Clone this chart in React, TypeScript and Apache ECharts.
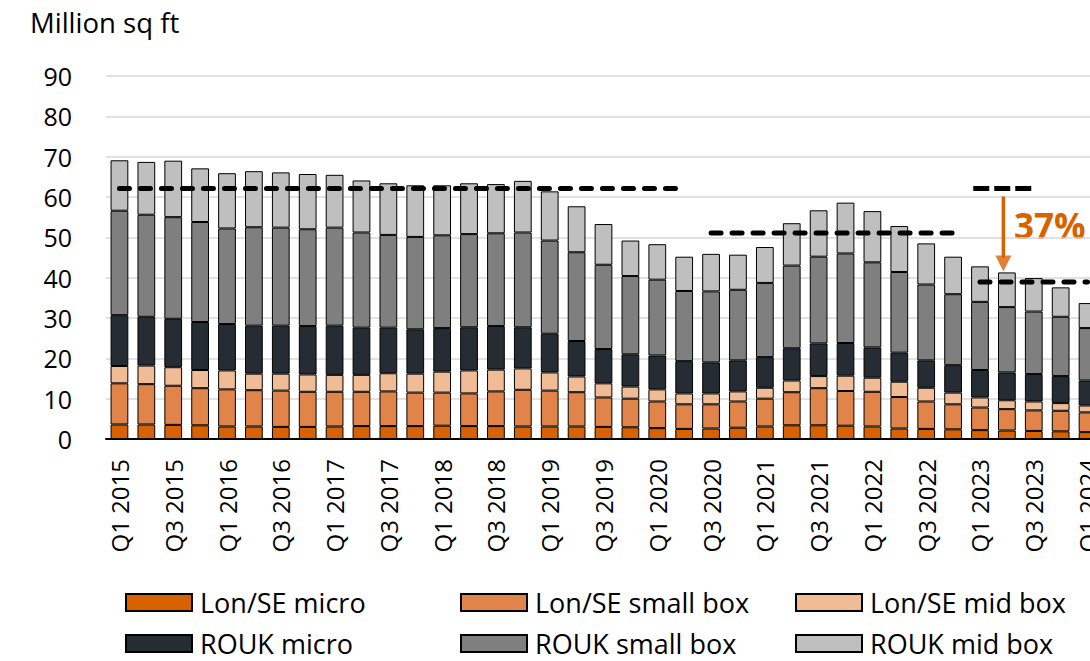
import React, { useEffect, useRef } from "react";
import * as echarts from "echarts";

const categories = [
  "Q1 2015", "Q2 2015", "Q3 2015", "Q4 2015",
  "Q1 2016", "Q2 2016", "Q3 2016", "Q4 2016",
  "Q1 2017", "Q2 2017", "Q3 2017", "Q4 2017",
  "Q1 2018", "Q2 2018", "Q3 2018", "Q4 2018",
  "Q1 2019", "Q2 2019", "Q3 2019", "Q4 2019",
  "Q1 2020", "Q2 2020", "Q3 2020", "Q4 2020",
  "Q1 2021", "Q2 2021", "Q3 2021", "Q4 2021",
  "Q1 2022", "Q2 2022", "Q3 2022", "Q4 2022",
  "Q1 2023", "Q2 2023", "Q3 2023", "Q4 2023",
  "Q1 2024",
];

const lonSeMicro = [3.6, 3.6, 3.5, 3.4, 3.1, 3.1, 3.0, 3.0, 3.1, 3.2, 3.2, 3.2, 3.3, 3.2, 3.2, 3.1, 3.1, 3.1, 3.0, 2.9, 2.7, 2.5, 2.6, 2.8, 3.1, 3.4, 3.4, 3.3, 3.1, 2.6, 2.5, 2.4, 2.2, 2.1, 2.0, 1.9, 1.7];
const lonSeSmall = [10.2, 10.0, 9.7, 9.2, 9.2, 9.0, 9.0, 8.7, 8.6, 8.5, 8.6, 8.3, 8.2, 8.1, 8.6, 9.1, 8.9, 8.5, 7.3, 7.1, 6.6, 6.1, 6.0, 6.5, 6.9, 8.2, 9.2, 8.6, 8.6, 7.8, 6.8, 6.2, 5.6, 5.3, 5.1, 5.1, 4.9];
const lonSeMid = [4.3, 4.6, 4.6, 4.5, 4.7, 4.1, 4.2, 4.3, 4.2, 4.2, 4.5, 4.7, 5.2, 5.7, 5.4, 5.3, 4.5, 3.9, 3.5, 3.0, 3.0, 2.7, 2.7, 2.5, 2.7, 2.9, 3.0, 3.8, 3.5, 3.8, 3.4, 2.9, 2.5, 2.2, 2.2, 1.9, 1.7];
const roukMicro = [12.6, 12.1, 12.0, 11.9, 11.5, 11.9, 11.9, 12.0, 12.2, 11.7, 11.3, 11.0, 10.8, 10.7, 10.8, 10.2, 9.6, 8.8, 8.5, 8.0, 8.4, 8.0, 7.7, 7.7, 7.6, 8.0, 8.1, 8.1, 7.5, 7.2, 6.8, 6.8, 6.8, 6.9, 6.8, 6.7, 6.2];
const roukSmall = [25.9, 25.3, 25.2, 24.8, 23.7, 24.4, 24.3, 24.0, 24.3, 23.6, 23.0, 22.9, 23.0, 23.1, 23.0, 23.5, 23.1, 22.0, 20.9, 19.4, 18.8, 17.4, 17.6, 17.5, 18.4, 20.5, 21.5, 22.2, 21.1, 20.0, 18.8, 17.6, 16.9, 16.2, 15.5, 14.7, 13.0];
const roukMid = [12.5, 13.1, 14.0, 13.3, 13.7, 13.9, 13.7, 13.7, 13.1, 12.9, 12.8, 12.8, 12.4, 12.6, 12.2, 12.8, 12.2, 11.4, 10.1, 8.8, 8.8, 8.5, 9.3, 8.7, 8.9, 10.5, 11.5, 12.6, 12.7, 11.4, 10.2, 9.3, 8.8, 8.6, 8.3, 7.3, 6.2];

// average reference levels (million sq ft) and the category spans they cover
const preCovidAvg = 62.1;
const preCovidSpan = [0, 21];
const reboundAvg = 51.1;
const reboundSpan = [22, 31];
const latestAvg = 38.9;
const latestSpan = [32, 36];

// short reference marker and arrow (on band-position axis: 0..37)
const refMarkerX = [32.25, 34.44];
const refMarkerY = 62.1;
const arrowX = 33.37;
const arrowShaftY = [60.1, 45.0];
const arrowHeadY = 43.5;
const dropLabel = "37%";

const seriesNames = ["Lon/SE micro", "Lon/SE small box", "Lon/SE mid box", "ROUK micro", "ROUK small box", "ROUK mid box"];
const seriesColors = ["#D86100", "#E0844A", "#F0BC96", "#252C33", "#7F7F7F", "#BFBFBF"];
const seriesData = [lonSeMicro, lonSeSmall, lonSeMid, roukMicro, roukSmall, roukMid];

const FONT = "'Open Sans', 'Noto Sans', sans-serif";
const ORANGE = "#D86100";

function spanLine(value: number, span: number[]) {
  return categories.map((_, i) => (i >= span[0] && i <= span[1] ? value : null));
}

export default function App() {
  const ref = useRef<HTMLDivElement>(null);
  useEffect(() => {
    if (!ref.current) return;
    const chart = echarts.init(ref.current, null, { renderer: "svg" });
    const dashStyle = {
      color: "#000",
      width: 5,
      type: [10, 11] as any,
      cap: "round" as const,
    };
    const bars = seriesNames.map((name, k) => ({
      name,
      type: "bar",
      stack: "total",
      barCategoryGap: "34%",
      data: seriesData[k],
      itemStyle: { color: seriesColors[k], borderColor: "#000", borderWidth: 1 },
    }));
    const legendCol = (names: string[], left: number) => ({
      orient: "vertical",
      left,
      top: 589,
      height: 72,
      padding: 0,
      itemWidth: 66,
      itemHeight: 17,
      itemGap: 14,
      icon: "rect",
      data: names,
      textStyle: { fontFamily: FONT, fontSize: 27, color: "#000", lineHeight: 27, padding: [0, 0, 0, 3] },
    });
    chart.setOption({
      animation: false,
      backgroundColor: "#fff",
      grid: { left: 106, right: 29, top: 76, bottom: 222 },
      legend: [
        legendCol([seriesNames[0], seriesNames[3]], 125),
        legendCol([seriesNames[1], seriesNames[4]], 460),
        legendCol([seriesNames[2], seriesNames[5]], 795),
      ],
      xAxis: [
        {
          type: "category",
          data: categories,
          axisLine: { lineStyle: { color: "#000", width: 2 } },
          axisTick: { show: false },
          axisLabel: {
            interval: 1,
            rotate: 90,
            margin: 20,
            fontFamily: FONT,
            fontSize: 24,
            color: "#000",
          },
        },
        { type: "value", min: 0, max: 37, show: false },
      ],
      yAxis: {
        type: "value",
        min: 0,
        max: 90,
        interval: 10,
        axisLine: { show: false },
        axisTick: { show: false },
        splitLine: { lineStyle: { color: "#D9D9D9", width: 1.5 } },
        axisLabel: { margin: 34, fontFamily: FONT, fontSize: 25, color: "#000" },
      },
      graphic: [
        {
          type: "text",
          left: 30,
          top: 8,
          style: { text: "Million sq ft", font: `27.5px ${FONT}`, fill: "#000" },
        },
        {
          type: "text",
          left: 1014,
          top: 208,
          style: { text: dropLabel, font: `bold 35px ${FONT}`, fill: ORANGE },
        },
      ],
      series: [
        ...bars,
        { type: "line", data: spanLine(preCovidAvg, preCovidSpan), symbol: "none", lineStyle: dashStyle, z: 5 },
        { type: "line", data: spanLine(reboundAvg, reboundSpan), symbol: "none", lineStyle: dashStyle, z: 5 },
        { type: "line", data: spanLine(latestAvg, latestSpan), symbol: "none", lineStyle: dashStyle, z: 5 },
        {
          type: "line",
          xAxisIndex: 1,
          data: refMarkerX.map((x) => [x, refMarkerY]),
          symbol: "none",
          lineStyle: { color: "#000", width: 5, type: [16, 5] as any, cap: "butt" },
          z: 5,
        },
        {
          type: "line",
          xAxisIndex: 1,
          data: arrowShaftY.map((y) => [arrowX, y]),
          symbol: "none",
          lineStyle: { color: ORANGE, width: 3.5 },
          z: 6,
        },
        {
          type: "scatter",
          xAxisIndex: 1,
          data: [[arrowX, arrowHeadY]],
          symbol: "triangle",
          symbolRotate: 180,
          symbolSize: [16, 16],
          itemStyle: { color: ORANGE },
          z: 6,
        },
      ],
    });
    return () => chart.dispose();
  }, []);
  return (
    <div style={{ position: "fixed", left: 0, top: 0, width: 1090, height: 661, overflow: "hidden", background: "#fff" }}>
      <div ref={ref} style={{ width: 1130, height: 661 }} />
    </div>
  );
}
